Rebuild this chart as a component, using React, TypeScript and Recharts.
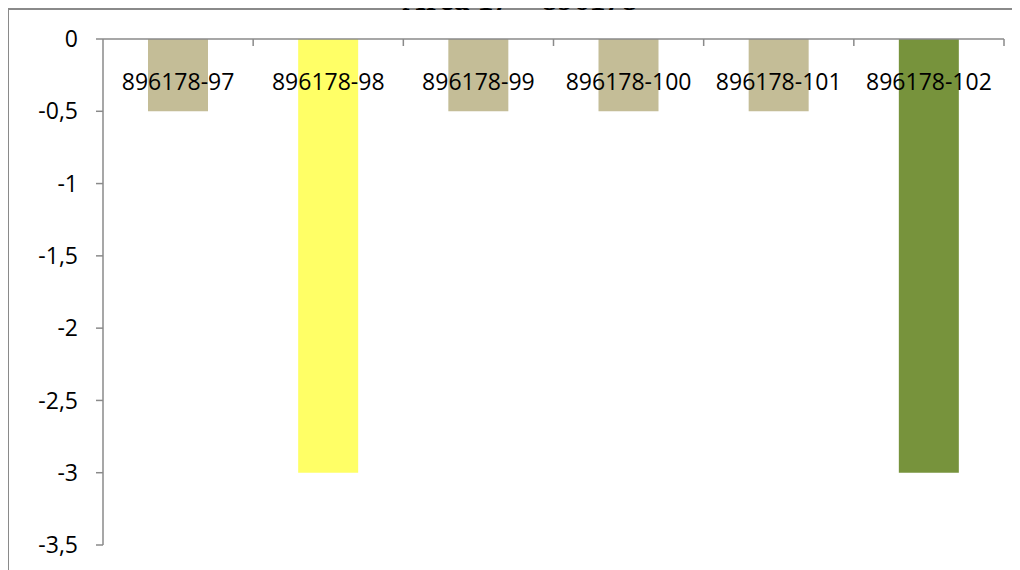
import React from "react";
import { BarChart, Bar, XAxis, YAxis, Cell } from "recharts";

const categories = ["896178-97", "896178-98", "896178-99", "896178-100", "896178-101", "896178-102"];
const values = [-0.5, -3, -0.5, -0.5, -0.5, -3];
const barColors = ["#C4BD97", "#FFFF66", "#C4BD97", "#C4BD97", "#C4BD97", "#77933C"];
const yTicks = [0, -0.5, -1, -1.5, -2, -2.5, -3, -3.5];
const chartTitle = "Area 17 – 896178";

const data = categories.map((name, i) => ({ name, value: values[i], color: barColors[i] }));

const FONT = "'Open Sans', sans-serif";
const AXIS = "#8a8a8a";

function CategoryTick(props: any) {
  const { x, y, payload } = props;
  const half = payload?.offset ?? 75;
  return (
    <g>
      <line x1={x + half} x2={x + half} y1={y} y2={y + 7} stroke={AXIS} strokeWidth={1.5} />
      <text x={x} y={y + 51} textAnchor="middle" fill="#000" fontSize={23} fontFamily={FONT}>
        {payload.value}
      </text>
    </g>
  );
}

export default function App() {
  return (
    <div style={{ position: "relative", width: 1012, height: 562 }}>
      <div
        style={{
          position: "absolute",
          left: -1,
          top: 0,
          width: 1200,
          height: 800,
          borderTop: `2px solid ${AXIS}`,
          borderLeft: `2px solid ${AXIS}`,
          boxSizing: "border-box",
        }}
      />
      {/* title sits mostly above the viewport, as in the source screenshot */}
      <svg
        width={1020}
        height={20}
        style={{ position: "absolute", left: -8, top: -8, overflow: "visible", zIndex: 2 }}
      >
        <text
          x={520}
          y={10}
          textAnchor="middle"
          fontFamily="'Liberation Serif', serif"
          fontWeight="bold"
          fontSize={32}
          fill="#000"
        >
          {chartTitle}
        </text>
      </svg>
      <BarChart
        width={1012}
        height={562}
        data={data}
        margin={{ top: 1, right: 16, bottom: 25, left: 0 }}
        barSize={60}
      >
        <XAxis
          dataKey="name"
          orientation="top"
          height={30}
          stroke={AXIS}
          strokeWidth={1.5}
          tickLine={false}
          tickSize={0}
          tickMargin={0}
          interval={0}
          tick={<CategoryTick />}
        />
        <YAxis
          width={95}
          domain={[-3.5, 0]}
          ticks={yTicks}
          stroke={AXIS}
          strokeWidth={1.5}
          tickSize={7}
          tickMargin={18}
          tickFormatter={(v: number) => String(v).replace(".", ",")}
          tick={{ fill: "#000", fontSize: 23, fontFamily: FONT }}
          interval={0}
        />
        <Bar dataKey="value" isAnimationActive={false}>
          {data.map((d) => (
            <Cell key={d.name} fill={d.color} />
          ))}
        </Bar>
      </BarChart>
    </div>
  );
}
